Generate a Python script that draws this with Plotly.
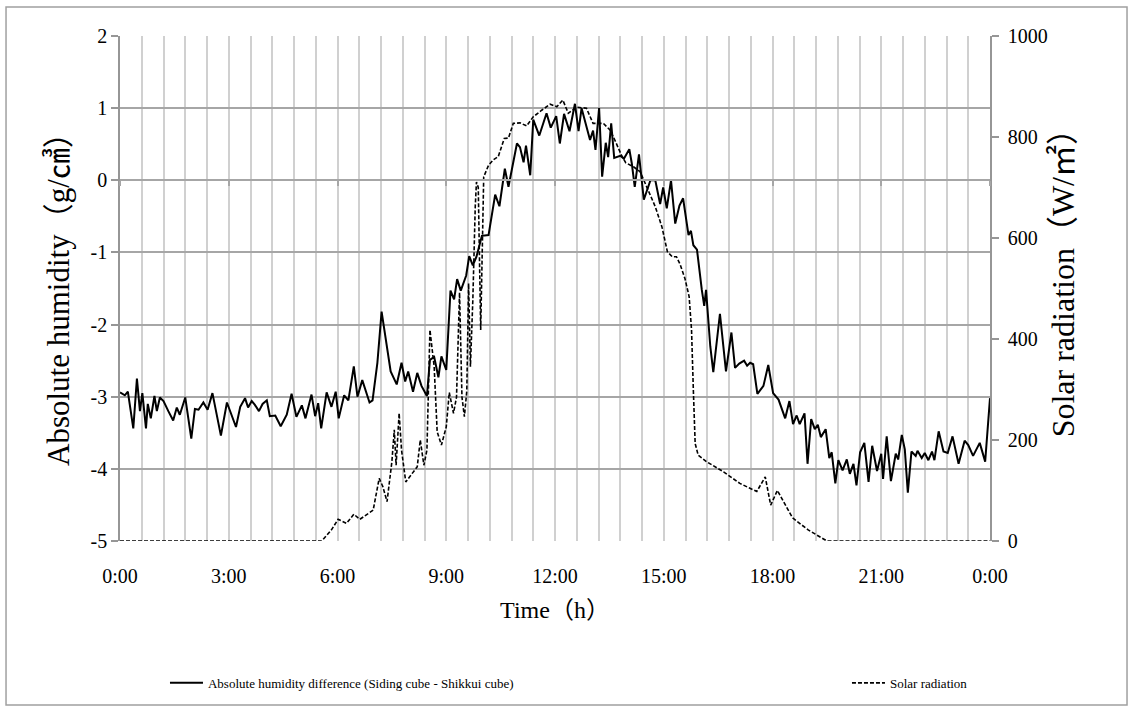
import plotly.graph_objects as go

# ---- data (time in minutes after midnight) ----
hum_min = [0, 8, 13, 22, 28, 33, 37, 43, 46, 51,
           57, 61, 66, 72, 80, 88, 94, 99, 108, 118,
           124, 130, 138, 145, 153, 157, 167, 177, 184, 192,
           199, 207, 212, 218, 223, 230, 236, 243, 248, 257,
           266, 276, 284, 292, 301, 307, 317, 323, 328, 333,
           342, 350, 357, 362, 371, 378, 387, 393, 401, 413,
           418, 426, 433, 440, 448, 458, 466, 472, 477, 485,
           492, 499, 508, 513, 520, 527, 532, 540, 547, 553,
           558, 564, 573, 578, 584, 590, 599, 610, 621, 628,
           637, 643, 657, 662, 668, 672, 679, 684, 694, 706,
           713, 722, 728, 735, 744, 753, 759, 764, 771, 778,
           783, 787, 793, 798, 804, 808, 813, 818, 828, 834,
           843, 847, 852, 859, 867, 878, 886, 894, 899, 905,
           912, 919, 926, 932, 941, 945, 949, 955, 963, 967,
           970, 977, 982, 993, 1003, 1012, 1018, 1025, 1033, 1038,
           1043, 1048, 1055, 1065, 1073, 1081, 1090, 1101, 1108, 1114,
           1120, 1125, 1133, 1138, 1144, 1150, 1155, 1160, 1168, 1174,
           1178, 1184, 1189, 1196, 1203, 1208, 1214, 1219, 1225, 1232,
           1239, 1245, 1253, 1260, 1263, 1269, 1276, 1284, 1288, 1294,
           1299, 1304, 1310, 1317, 1320, 1327, 1332, 1338, 1344, 1348,
           1355, 1363, 1370, 1378, 1388, 1398, 1404, 1412, 1423, 1432,
           1440]
hum_val = [-2.94, -2.98, -2.93, -3.44, -2.75, -3.20, -2.95, -3.44, -3.10, -3.30,
           -2.99, -3.20, -3.01, -3.06, -3.20, -3.33, -3.15, -3.25, -3.01, -3.58,
           -3.17, -3.18, -3.08, -3.18, -2.95, -3.11, -3.54, -3.08, -3.25, -3.42,
           -3.14, -3.02, -3.15, -3.06, -3.11, -3.20, -3.10, -3.05, -3.27, -3.26,
           -3.41, -3.25, -2.96, -3.28, -3.12, -3.30, -2.97, -3.27, -3.09, -3.44,
           -2.94, -3.14, -2.93, -3.30, -2.98, -3.05, -2.58, -3.00, -2.77, -3.08,
           -3.05, -2.53, -1.82, -2.20, -2.65, -2.83, -2.53, -2.79, -2.65, -2.93,
           -2.67, -2.85, -2.99, -2.49, -2.45, -2.73, -2.44, -2.63, -1.53, -1.65,
           -1.37, -1.53, -1.32, -1.05, -1.18, -1.06, -0.77, -0.76, -0.20, -0.36,
           0.16, -0.09, 0.51, 0.46, 0.25, 0.48, 0.07, 0.84, 0.62, 0.93,
           0.73, 0.89, 0.51, 0.92, 0.68, 1.06, 0.68, 1.00, 0.76, 0.56,
           0.69, 0.42, 1.00, 0.05, 0.52, 0.32, 0.79, 0.31, 0.34, 0.30,
           0.43, 0.24, -0.09, 0.36, -0.27, 0.00, 0.00, -0.33, -0.10, -0.39,
           0.00, -0.60, -0.35, -0.25, -0.76, -0.70, -0.90, -0.96, -1.52, -1.74,
           -1.52, -2.30, -2.66, -1.85, -2.65, -2.11, -2.60, -2.54, -2.50, -2.57,
           -2.53, -2.55, -2.96, -2.85, -2.56, -2.95, -3.04, -3.30, -3.06, -3.38,
           -3.26, -3.38, -3.23, -3.93, -3.31, -3.45, -3.39, -3.56, -3.45, -3.85,
           -3.77, -4.20, -3.88, -4.02, -3.87, -4.07, -3.93, -4.23, -3.77, -3.64,
           -4.18, -3.68, -4.03, -3.79, -4.14, -3.55, -4.17, -3.79, -3.87, -3.53,
           -3.73, -4.33, -3.76, -3.82, -3.75, -3.85, -3.78, -3.88, -3.76, -3.88,
           -3.48, -3.76, -3.78, -3.55, -3.93, -3.61, -3.67, -3.82, -3.64, -3.90,
           -3.02]

sol_min = [0, 334, 350, 361, 375, 387, 397, 406, 419, 429,
           435, 442, 450, 454, 457, 462, 466, 473, 483, 492,
           497, 503, 508, 513, 520, 525, 532, 540, 545, 552,
           557, 562, 566, 570, 574, 577, 580, 584, 588, 590,
           593, 597, 602, 610, 618, 626, 636, 643, 651, 662,
           673, 684, 698, 712, 723, 733, 742, 756, 772, 783,
           800, 811, 819, 830, 837, 850, 861, 872, 886, 897,
           906, 914, 921, 927, 935, 942, 946, 949, 952, 957,
           971, 999, 1026, 1054, 1068, 1077, 1088, 1113, 1139, 1170,
           1440]
sol_val = [0, 0, 22, 43, 35, 53, 43, 50, 61, 124,
           108, 78, 157, 220, 150, 253, 180, 117, 134, 147,
           200, 150, 180, 418, 345, 216, 190, 226, 294, 253,
           285, 492, 285, 246, 297, 510, 345, 477, 662, 711,
           700, 418, 721, 744, 755, 761, 797, 798, 827, 828,
           822, 840, 853, 865, 860, 873, 847, 859, 857, 827,
           827, 814, 794, 764, 749, 741, 731, 701, 662, 622,
           573, 563, 563, 548, 520, 484, 418, 299, 193, 170,
           157, 137, 114, 98, 127, 71, 100, 46, 22, 0,
           0]

x_tick_hours = [0, 3, 6, 9, 12, 15, 18, 21, 24]
x_tick_text = ["0:00", "3:00", "6:00", "9:00", "12:00", "15:00", "18:00", "21:00", "0:00"]
y_tick_vals = [-5, -4, -3, -2, -1, 0, 1, 2]
y_tick_text = ["-5", "-4", "-3", "-2", "-1", "0", "1", "2"]
y2_tick_vals = [0, 200, 400, 600, 800, 1000]

name_hum = "Absolute humidity difference (Siding cube - Shikkui cube)"
name_sol = "Solar radiation"
title_y1 = "Absolute humidity（g/㎤）"
title_y2 = "Solar radiation（W/㎡）"
title_x = "Time（h）"

FONT = "Liberation Serif, Times New Roman, Noto Sans CJK JP, serif"
GRID_H = "#a6a6a6"
GRID_V = "#d0d0d0"
AXIS = "#969696"

fig = go.Figure()
fig.add_trace(go.Scatter(
    x=[m / 60 for m in hum_min], y=hum_val, mode="lines", name=name_hum,
    line=dict(color="black", width=2), xaxis="x", yaxis="y", legend="legend"))
fig.add_trace(go.Scatter(
    x=[m / 60 for m in sol_min], y=sol_val, mode="lines", name=name_sol,
    line=dict(color="black", width=1.6, dash="4px,2px"), xaxis="x", yaxis="y2",
    legend="legend2"))
# helper trace for the axis line that crosses at y = 0
fig.add_trace(go.Scatter(x=[0, 24], y=[0, 0], mode="lines", showlegend=False,
                         line=dict(color="rgba(0,0,0,0)"), hoverinfo="skip",
                         xaxis="x3", yaxis="y"))

# outer chart border
fig.add_shape(type="rect", xref="paper", yref="paper",
              x0=-0.131, x1=1.1575, y0=-0.3248, y1=1.0574,
              line=dict(color="#a0a0a0", width=1.5), layer="below")

# vertical axis titles
fig.add_annotation(text=title_y1, xref="paper", yref="paper", x=-0.0713, y=0.495,
                   xanchor="center", yanchor="middle", textangle=-90, showarrow=False,
                   font=dict(family=FONT, size=31, color="black"))
fig.add_annotation(text=title_y2, xref="paper", yref="paper", x=1.0839, y=0.526,
                   xanchor="center", yanchor="middle", textangle=-90, showarrow=False,
                   font=dict(family=FONT, size=32, color="black"))

legend_common = dict(orientation="h", yanchor="middle", xanchor="left",
                     font=dict(family=FONT, size=13, color="black"),
                     bgcolor="rgba(0,0,0,0)", itemwidth=33)

fig.update_layout(
    width=1130, height=710,
    margin=dict(l=120, r=140, t=36, b=169),
    paper_bgcolor="white", plot_bgcolor="white",
    font=dict(family=FONT, color="black", size=20),
    showlegend=True,
    legend=dict(x=0.0517, y=-0.281, **legend_common),
    legend2=dict(x=0.8356, y=-0.281, **legend_common),
    xaxis=dict(range=[0, 24], tickvals=x_tick_hours, ticktext=x_tick_text,
               showgrid=True, gridcolor=GRID_V, gridwidth=2,
               minor=dict(dtick=0.6, tick0=0, showgrid=True, gridcolor=GRID_V, gridwidth=2),
               zeroline=False, showline=False, ticks="",
               tickfont=dict(family=FONT, size=20), ticklabelstandoff=21,
               title=dict(text=title_x, font=dict(family=FONT, size=24), standoff=15)),
    xaxis3=dict(range=[0, 24], overlaying="x", anchor="free", position=5 / 7,
                side="bottom", showgrid=False, zeroline=False, showline=True,
                linecolor=GRID_H, linewidth=1.5, tickvals=x_tick_hours, ticks="outside",
                ticklen=5, tickcolor=GRID_H, tickwidth=1.5, showticklabels=False),
    yaxis=dict(range=[-5, 2], tickvals=y_tick_vals, ticktext=y_tick_text,
               showgrid=True, gridcolor=GRID_H, gridwidth=1.5, zeroline=False,
               showline=True, linecolor=AXIS, linewidth=1.5,
               ticks="outside", ticklen=7, tickcolor=AXIS, tickwidth=1.5,
               tickfont=dict(family=FONT, size=20)),
    yaxis2=dict(range=[0, 1000], tickvals=y2_tick_vals, overlaying="y", side="right",
                showgrid=False, zeroline=False, showline=True, linecolor=AXIS, linewidth=1.5,
                ticks="outside", ticklen=7, tickcolor=AXIS, tickwidth=1.5,
                tickfont=dict(family=FONT, size=20), ticklabelstandoff=5),
)

fig.write_html("out.html")
